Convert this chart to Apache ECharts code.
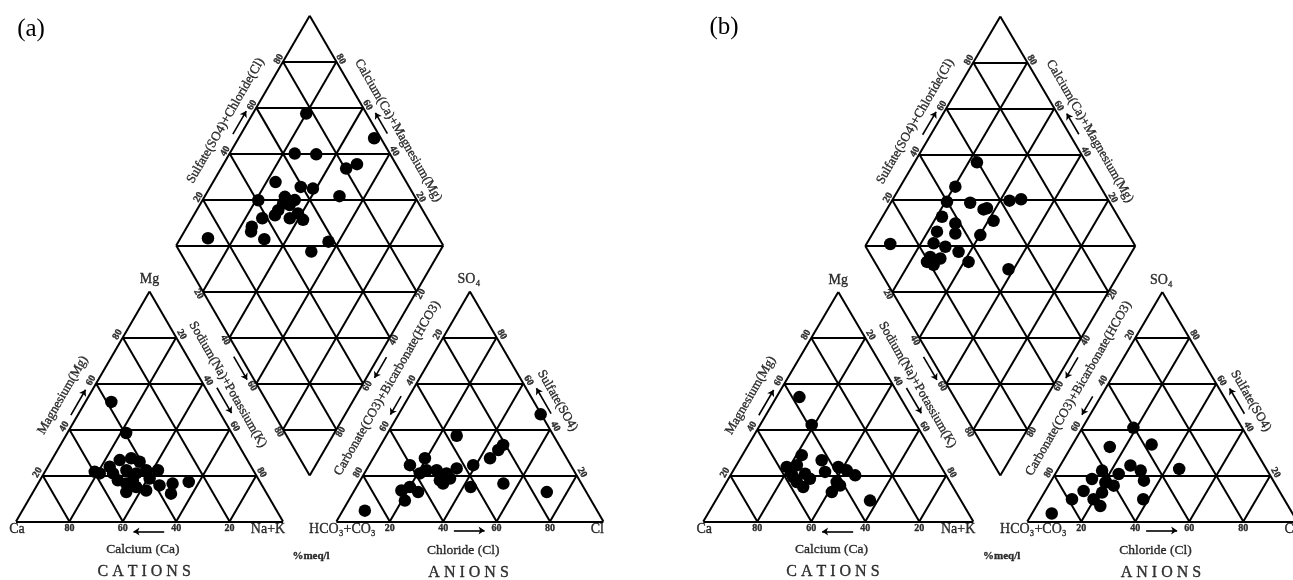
<!DOCTYPE html>
<html><head><meta charset="utf-8">
<script src="https://cdn.jsdelivr.net/npm/echarts@6/dist/echarts.min.js"></script>
<style>html,body{margin:0;padding:0;background:#fff}#c{width:1293px;height:580px}</style>
</head><body><div id="c"></div><script>
// ---------- data (percent of meq/l) ----------
const panelNames = ['(a)', '(b)'];
const tickValues = ['20', '40', '60', '80'];
const tickValuesRev = ['80', '60', '40', '20'];

// Panel (a) - cation triangle: Mg %, Na+K % (Ca = remainder)
const aCatMg  = [52, 38.5, 21.6, 20.9, 26.7, 27.5, 26, 22.3, 20.9, 22.3, 22.3, 16.5, 15, 13.5, 12.8, 15.7, 16.5, 12.1, 17.2, 20.9, 17.9, 17.9, 18.7, 23.8];
const aCatNaK = [9.7, 22, 18.7, 20.9, 25.5, 29.4, 33.3, 30.2, 34.6, 37.6, 42, 33, 37.5, 42, 34.9, 45.9, 50.4, 52, 56.1, 25.9, 29.2, 34.8, 40.7, 23.2];
// Panel (a) - anion triangle: SO4 %, Cl % (HCO3+CO3 = remainder)
const aAnSO4 = [46.6, 37.3, 33.3, 31.1, 27.5, 24.5, 27.5, 24.5, 22.3, 22.3, 20.9, 23.1, 17.9, 18.7, 16.5, 20.9, 15, 16.5, 12.8, 13.5, 15, 12.8, 9.1, 4.7];
const aAnCl  = [53.2, 26.4, 45.8, 45.1, 43.8, 39, 19.4, 15.3, 22.6, 26.4, 30.8, 33.5, 29.8, 33.2, 31.7, 20.8, 42.8, 54.3, 72.4, 17.6, 20, 24.2, 21.1, 8.3];
// Panel (a) - diamond: SO4+Cl %, Ca+Mg %
const aDiaSC = [77.4, 97.5, 64.4, 72.3, 80.4, 85.4, 51, 59.4, 63.6, 71.9, 40.6, 49.2, 45.9, 51.3, 54.3, 52.6, 48.5, 43.6, 53.1, 38.2, 32.4, 31.1, 34.4, 13.5, 57.9, 49.3, 51.3];
const aDiaCM = [80, 49.2, 75.6, 67.4, 53.1, 50, 76.6, 66.1, 61.2, 49.6, 79.1, 69.1, 69.5, 66.3, 65.5, 61.4, 63.4, 69.6, 58.1, 73.7, 75.8, 75, 68.4, 89.7, 43.8, 48.1, 69.9];

// Panel (b) - cation triangle
const bCatMg  = [54.2, 42.1, 28.9, 26.7, 23.8, 24.5, 20.8, 20.8, 21.6, 23.8, 22.3, 20.1, 17.2, 15, 15.7, 12.8, 9.1, 19.4, 18.6, 17.2];
const bCatNaK = [8.5, 19.1, 22, 30.5, 19, 22.4, 22.3, 27.3, 34.3, 38.1, 42, 46.2, 26, 29.5, 42.8, 41.2, 57.2, 23.6, 30.2, 40.8];
// Panel (b) - anion triangle
const bAnSO4 = [40.8, 32.5, 33.5, 24.4, 22.2, 22.9, 22.2, 20.7, 18.5, 17, 15.6, 17.8, 13.3, 12.6, 9.7, 6.7, 9.7, 3.5, 9.7];
const bAnCl  = [18.9, 14.3, 29.3, 26, 30.9, 44.8, 16.6, 23.5, 14.7, 20.4, 24.2, 34.3, 14.2, 21.4, 11.7, 23.7, 38.1, 7.3, 19.7];
// Panel (b) - diamond
const bDiaSC = [59.6, 46.3, 39.9, 48.3, 51.8, 63.3, 67.9, 53, 34.8, 38.3, 29.7, 36.1, 45, 9.7, 25.9, 29.5, 33.3, 21.7, 25.1, 19.4, 21.2, 34.8, 48, 53.3];
const bDiaCM = [76.9, 79.6, 79.4, 70.6, 64.2, 56.5, 52.5, 58, 78, 71.6, 76.6, 69.4, 59.8, 91.2, 75.3, 70.2, 64.2, 73.6, 69.5, 73.7, 70.6, 58.3, 41.9, 63.2];

// ---------- geometry (triangle side = 100 units, gap = 20) ----------
const H = Math.sqrt(3) / 2;
const PX = 2.67;
function cat(mg, nak) { return [nak + mg / 2, mg * H]; }
function an(cl, so4) { return [120 + cl + so4 / 2, so4 * H]; }
function dia(sc, cm) { return [110 + (sc - cm) / 2, 20 * H + (sc + cm) * H]; }
const lerp = (A, B, f) => [A[0] + (B[0] - A[0]) * f, A[1] + (B[1] - A[1]) * f];
const off = (p, n, px) => [p[0] + n[0] * px / PX, p[1] + n[1] * px / PX];
const NUL = [-H, 0.5], NUR = [H, 0.5], NDL = [-H, -0.5], NDR = [H, -0.5], ND = [0, -1];
const FONT = "'Liberation Serif','Times New Roman',serif";

function buildPanel(gi, d) {
  const Ca = cat(0, 0), NaK = cat(0, 100), Mg = cat(100, 0);
  const HC = an(0, 0), Cl = an(100, 0), SO4 = an(0, 100);
  const B = dia(0, 0), R = dia(100, 0), L = dia(0, 100), T = dia(100, 100);
  const segs = [];
  const seg = (p, q) => segs.push({ coords: [p, q] });
  [[Ca, NaK], [NaK, Mg], [Mg, Ca], [HC, Cl], [Cl, SO4], [SO4, HC], [B, R], [R, T], [T, L], [L, B]].forEach(s => seg(s[0], s[1]));
  [20, 40, 60, 80].forEach(k => {
    seg(cat(k, 0), cat(k, 100 - k)); seg(cat(0, k), cat(100 - k, k)); seg(cat(100 - k, 0), cat(0, 100 - k));
    seg(an(k, 0), an(k, 100 - k)); seg(an(0, k), an(100 - k, k)); seg(an(100 - k, 0), an(0, 100 - k));
    seg(dia(k, 0), dia(k, 100)); seg(dia(0, k), dia(100, k));
  });
  for (let s = 20; s < 200; s += 20) {
    if (s <= 100) seg(dia(0, s), dia(s, 0)); else seg(dia(s - 100, 100), dia(100, s - 100));
  }

  const labels = [];
  const lab = (p, text, rot, size, weight, extra) => labels.push({
    value: p,
    label: Object.assign({ show: true, position: 'inside', formatter: text, rotate: rot || 0, fontSize: size,
      fontWeight: weight || 'normal', fontFamily: FONT, color: '#000',
      textBorderColor: '#000', textBorderWidth: 0.35 }, extra || {})
  });
  const ticks = (A, Bp, vals, n, px, rot) => vals.forEach((v, i) => lab(off(lerp(A, Bp, 0.2 * (i + 1)), n, px), v, rot, 10, 'bold'));
  ticks(Ca, NaK, tickValuesRev, ND, 7, 0);
  ticks(Ca, Mg, tickValues, NUL, 6, 60);
  ticks(Mg, NaK, tickValues, NUR, 6, -60);
  ticks(HC, Cl, tickValues, ND, 7, 0);
  ticks(HC, SO4, tickValuesRev, NUL, 6, 60);
  ticks(SO4, Cl, tickValuesRev, NUR, 6, -60);
  ticks(L, T, tickValues, NUL, 5, 60);
  ticks(T, R, tickValuesRev, NUR, 5, -60);
  ticks(L, B, tickValues, NDL, 5, -60);
  ticks(R, B, tickValues, NDR, 5, 60);

  lab(off(lerp(Ca, Mg, 0.5), NUL, 23), 'Magnesium(Mg)', 60, 13);
  lab(off(lerp(Mg, NaK, 0.45), NUR, 21), 'Sodium(Na)+Potassium(K)', -60, 13);
  lab(off(lerp(L, T, 0.5), NUL, 20), 'Sulfate(SO4)+Chloride(Cl)', 60, 13);
  lab(off(lerp(T, R, 0.54), NUR, 19), 'Calcium(Ca)+Magnesium(Mg)', -60, 13);
  lab(off(lerp(HC, SO4, 0.53), NUL, 23), 'Carbonate(CO3)+Bicarbonate(HCO3)', 60, 13);
  lab(off(lerp(SO4, Cl, 0.52), NUR, 21), 'Sulfate(SO4)', -60, 13);
  lab(off([47.5, 0], ND, 28), 'Calcium (Ca)', 0, 13.5);
  lab(off([167.5, 0], ND, 29), 'Chloride (Cl)', 0, 13.5);
  const spaced = w => w.split('').map(c => '{s|' + c + '}').join('');
  const richS = { rich: { s: { fontSize: 16, fontFamily: FONT, color: '#000', textBorderColor: '#000', textBorderWidth: 0.35, padding: [0, 2, 0, 2] } } };
  lab(off([48, 0], ND, 51), spaced('CATIONS'), 0, 16, 'normal', richS);
  lab(off([169.5, 0], ND, 52), spaced('ANIONS'), 0, 16, 'normal', richS);
  lab(off([110.5, 0], ND, 35), '%meq/l', 0, 11, 'bold');

  lab([Ca[0] + 1 / PX, Ca[1] - 8 / PX], 'Ca', 0, 14);
  lab([NaK[0] - 15 / PX, NaK[1] - 8 / PX], 'Na+K', 0, 14);
  lab([Mg[0], Mg[1] + 12 / PX], 'Mg', 0, 14);
  lab([HC[0] + 6 / PX, HC[1] - 8 / PX], 'HCO\u2083+CO\u2083', 0, 14);
  lab([Cl[0] - 6 / PX, Cl[1] - 8 / PX], 'Cl', 0, 14);
  lab([SO4[0] - 1 / PX, SO4[1] + 12 / PX], 'SO\u2084', 0, 14);

  const arrows = [];
  const arr = (p, q) => arrows.push({ coords: [p, q] });
  arr(off(lerp(Ca, NaK, 0.555), ND, 10), off(lerp(Ca, NaK, 0.44), ND, 10));
  arr(off(lerp(Ca, Mg, 0.45), NUL, 6), off(lerp(Ca, Mg, 0.56), NUL, 6));
  arr(off(lerp(Mg, NaK, 0.44), NUR, 10), off(lerp(Mg, NaK, 0.55), NUR, 10));
  arr(off(lerp(L, B, 0.47), NDL, 6), off(lerp(L, B, 0.57), NDL, 6));
  arr(off(lerp(R, B, 0.47), NDR, 7), off(lerp(R, B, 0.56), NDR, 7));
  arr(off(lerp(HC, SO4, 0.53), NUL, 7), off(lerp(HC, SO4, 0.45), NUL, 7));
  arr(off(lerp(SO4, Cl, 0.55), NUR, 9), off(lerp(SO4, Cl, 0.44), NUR, 9));
  arr(off(lerp(HC, Cl, 0.44), ND, 9), off(lerp(HC, Cl, 0.555), ND, 9));
  arr(off(lerp(L, T, 0.47), NUL, 7), off(lerp(L, T, 0.57), NUL, 7));
  arr(off(lerp(T, R, 0.53), NUR, 8), off(lerp(T, R, 0.44), NUR, 8));

  const pts = [];
  d.catMg.forEach((m, i) => pts.push(cat(m, d.catNaK[i])));
  d.anSO4.forEach((s, i) => pts.push(an(d.anCl[i], s)));
  d.diaSC.forEach((s, i) => pts.push(dia(s, d.diaCM[i])));

  return [
    { type: 'lines', coordinateSystem: 'cartesian2d', xAxisIndex: gi, yAxisIndex: gi, clip: false, silent: true,
      lineStyle: { color: '#000', width: 2, opacity: 1, curveness: 0 }, data: segs },
    { type: 'lines', coordinateSystem: 'cartesian2d', xAxisIndex: gi, yAxisIndex: gi, clip: false, silent: true,
      symbol: ['none', 'arrow'], symbolSize: 6,
      lineStyle: { color: '#000', width: 1.6, opacity: 1 }, data: arrows },
    { type: 'scatter', xAxisIndex: gi, yAxisIndex: gi, clip: false, silent: true, symbol: 'circle', symbolSize: 12.5,
      itemStyle: { color: '#000', opacity: 1 }, data: pts, z: 5 },
    { type: 'scatter', xAxisIndex: gi, yAxisIndex: gi, clip: false, silent: true, symbolSize: 1,
      itemStyle: { color: 'rgba(0,0,0,0)' }, data: labels, z: 6 }
  ];
}

const chart = echarts.init(document.getElementById('c'));
const YMAX = 20 * H + 200 * H;
chart.setOption({
  animation: false,
  backgroundColor: '#fff',
  grid: [
    { left: 16, top: 521.5 - YMAX * 2.655, width: 220 * 2.67, height: YMAX * 2.655, outerBoundsMode: 'none', containLabel: false },
    { left: 703.3, top: 521.5 - YMAX * 2.65, width: 218.4 * 2.7, height: YMAX * 2.65, outerBoundsMode: 'none', containLabel: false }
  ],
  xAxis: [
    { gridIndex: 0, type: 'value', min: 0, max: 220, show: false },
    { gridIndex: 1, type: 'value', min: 0, max: 218.4, show: false }
  ],
  yAxis: [
    { gridIndex: 0, type: 'value', min: 0, max: YMAX, show: false },
    { gridIndex: 1, type: 'value', min: 0, max: YMAX, show: false }
  ],
  graphic: [
    { type: 'text', x: 31, y: 29, style: { text: panelNames[0], fontSize: 25, fontFamily: 'Liberation Serif', fill: '#000', align: 'center', verticalAlign: 'middle' } },
    { type: 'text', x: 724, y: 27, style: { text: panelNames[1], fontSize: 25, fontFamily: 'Liberation Serif', fill: '#000', align: 'center', verticalAlign: 'middle' } }
  ],
  series: [].concat(
    buildPanel(0, { catMg: aCatMg, catNaK: aCatNaK, anSO4: aAnSO4, anCl: aAnCl, diaSC: aDiaSC, diaCM: aDiaCM }),
    buildPanel(1, { catMg: bCatMg, catNaK: bCatNaK, anSO4: bAnSO4, anCl: bAnCl, diaSC: bDiaSC, diaCM: bDiaCM })
  )
});
</script></body></html>
